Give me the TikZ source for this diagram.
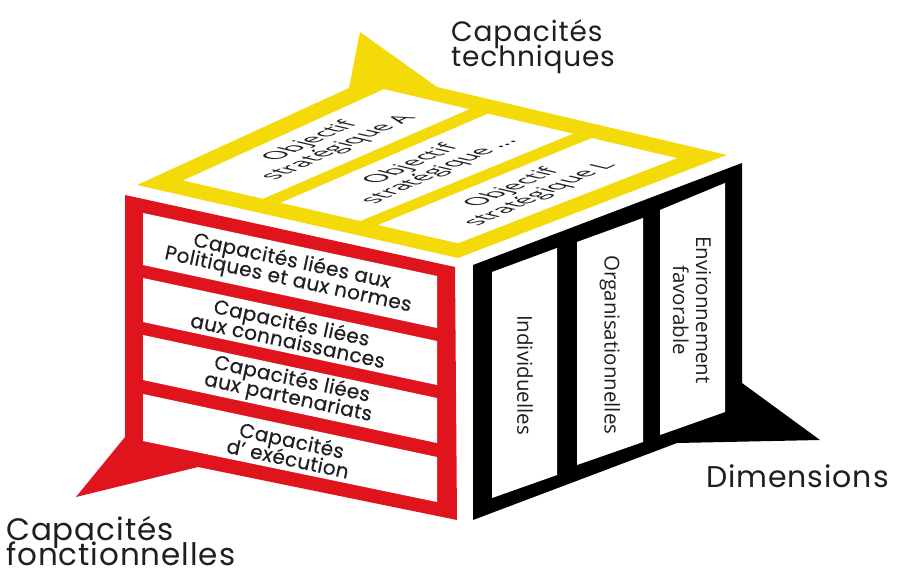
\documentclass[tikz,border=0pt]{standalone}
\usepackage{fontspec}
\setmainfont{Open Sans}
\newfontfamily\geofont[LetterSpace=3]{Poppins}
\newfontfamily\geotext[LetterSpace=2,FakeBold=0.4]{Poppins}
\usetikzlibrary{calc}
\definecolor{capred}{RGB}{224,20,28}
\definecolor{capyellow}{RGB}{245,218,10}
\definecolor{ink}{RGB}{30,30,35}
\begin{document}
\lineskiplimit=-40pt\relax
\begin{tikzpicture}[x=1pt,y=-1pt,
  rowtext/.style={font=\geotext\fontsize{20}{18.5}\selectfont, text=ink, align=center, rotate=-12.1, inner sep=0},
  coltext/.style={font=\fontsize{20.5}{23}\selectfont, text=ink, align=center, rotate=-90, inner sep=0},
  objtext/.style={font=\fontsize{14}{16}\selectfont, text=ink, align=center, inner sep=0, cm={1.645,0.729,-1.753,0.407,(0,0)}},
  outlabel/.style={font=\geofont\fontsize{28}{25}\selectfont, text=ink, align=left, inner sep=0, anchor=north west}]
\useasboundingbox (0,0) rectangle (898,571);

% ---------- top (yellow) face ----------
\coordinate (L) at (137,185);
\coordinate (B) at (380,73);
\coordinate (R) at (727,155);
\coordinate (F) at (458,258);
\coordinate (ytl) at (349,88);
\coordinate (ytip) at (360,32);
\coordinate (ytr) at (437,87);
\fill[capyellow] (L) -- (ytl) -- (ytip) -- (ytr) -- (R) -- (F) -- cycle;
\coordinate (P0) at ($(L)!0.09!(B)$);
\coordinate (Q0) at ($(F)!0.09!(R)$);
\coordinate (P1) at ($(L)!0.91!(B)$);
\coordinate (Q1) at ($(F)!0.91!(R)$);
\coordinate (Pm) at ($(L)!0.5!(B)$);
\coordinate (Qm) at ($(F)!0.5!(R)$);
\foreach \ua/\ub in {0.075/0.322, 0.377/0.623, 0.678/0.925}{
  \fill[white] ($(P0)!\ua!(Q0)$) -- ($(P1)!\ua!(Q1)$) -- ($(P1)!\ub!(Q1)$) -- ($(P0)!\ub!(Q0)$) -- cycle;
}
\node[objtext] (objA) at ($(Pm)!0.1985!(Qm)$) {Objectif\\stratégique A};
\node[objtext] (objM) at ($(Pm)!0.5!(Qm)$) {Objectif\\stratégique\,...};
\node[objtext] (objL) at ($(Pm)!0.8015!(Qm)$) {Objectif\\stratégique L};

% ---------- front (red) face ----------
\fill[capred] (125,195) -- (455,267) -- (457,520) -- (198,467) -- (76,497) -- (125,437) -- cycle;
\fill[white] (143,213) -- (437,276) -- (437,328) -- (143,265) -- cycle;
\fill[white] (143,278) -- (437,341) -- (437,385) -- (143,322) -- cycle;
\fill[white] (143,335) -- (437,398) -- (437,443) -- (143,380) -- cycle;
\fill[white] (143,394) -- (437,457) -- (437,502) -- (143,441) -- cycle;
\node[rowtext] (r1) at (290,271) {Capacités liées aux\\Politiques et aux normes};
\node[rowtext] (r2) at (290,331) {Capacités liées\\aux connaissances};
\node[rowtext] (r3) at (290,389) {Capacités liées\\aux partenariats};
\node[rowtext] (r4) at (290,449) {Capacités\\d’ exécution};

% ---------- right (black) face ----------
\fill[black] (473,265) -- (742,163) -- (742,383) -- (820,440) -- (677,443) -- (473,520) -- cycle;
\fill[white] (492,272) -- (557,248) -- (557,475) -- (492,498) -- cycle;
\fill[white] (577,242) -- (643,218) -- (643,442) -- (577,465) -- cycle;
\fill[white] (660,210) -- (725,183) -- (725,412) -- (660,435) -- cycle;
\node[coltext] (c1) at (525,375) {Individuelles};
\node[coltext] (c2) at (610,345) {Organisationnelles};
\node[coltext] (c3) at (692,310) {Environnement\\favorable};

% ---------- outer labels ----------
\node[outlabel] (lt) at (451,19) {Capacités\\techniques};
\node[outlabel, font=\geofont\fontsize{31}{25}\selectfont] (lf) at (6,516) {Capacités\\fonctionnelles};
\node[outlabel, font=\geofont\fontsize{30}{25}\selectfont, anchor=base west] (ld) at (706,487) {Dimensions};
\end{tikzpicture}
\end{document}
